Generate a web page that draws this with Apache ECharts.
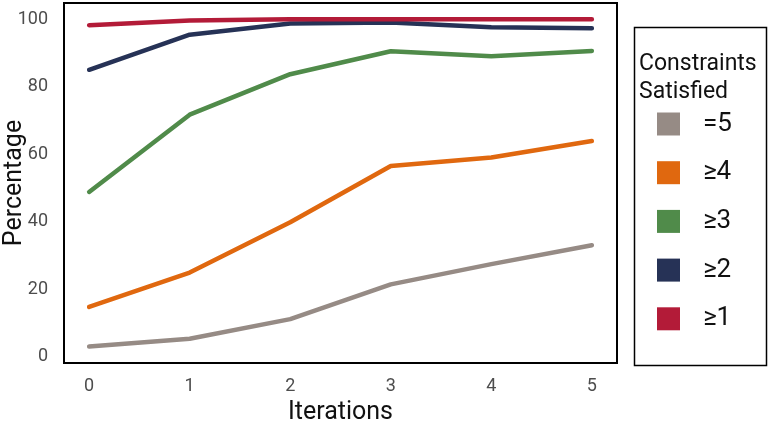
<!DOCTYPE html>
<html>
<head>
<meta charset="utf-8">
<script src="https://cdn.jsdelivr.net/npm/echarts@6/dist/echarts.min.js"></script>
<style>html,body{margin:0;padding:0;background:#fff}#chart{width:768px;height:424px}</style>
</head>
<body>
<div id="chart"></div>
<script>
const iterations = [0, 1, 2, 3, 4, 5];
const seriesNames = ['=5', '≥4', '≥3', '≥2', '≥1'];
const eq5 = [3.0, 5.3, 11.1, 21.4, 27.4, 33.0];
const ge4 = [14.7, 24.9, 39.8, 56.5, 59.0, 63.9];
const ge3 = [48.8, 71.7, 83.7, 90.5, 89.0, 90.6];
const ge2 = [85.0, 95.4, 98.7, 99.0, 97.6, 97.3];
const ge1 = [98.2, 99.6, 100, 100, 100, 100];
const yTicks = [0, 20, 40, 60, 80, 100];
const xTicks = [0, 1, 2, 3, 4, 5];
const colors = ['#968b85', '#e0680f', '#508b4a', '#263256', '#b31b38'];
const allValues = [eq5, ge4, ge3, ge2, ge1];

const chart = echarts.init(document.getElementById('chart'));
const font = 'Roboto, "Noto Sans", sans-serif';
chart.setOption({
  animation: false,
  color: colors,
  grid: {left: 64, right: 151, top: 3, bottom: 61, show: true, borderColor: '#000', borderWidth: 2,
         backgroundColor: '#fff', containLabel: false, outerBoundsMode: 'none'},
  xAxis: {
    type: 'value', min: -0.25, max: 5.25,
    name: 'Iterations', nameLocation: 'middle', nameGap: 37, nameMoveOverlap: false,
    nameTextStyle: {fontSize: 25, color: '#111', fontFamily: font},
    axisLine: {show: false}, axisTick: {show: false}, splitLine: {show: false},
    axisLabel: {customValues: xTicks, fontSize: 18, color: '#4d4d4d', margin: 14, fontFamily: font}
  },
  yAxis: {
    type: 'value', min: -1.9, max: 104.8,
    name: 'Percentage', nameLocation: 'middle', nameGap: 37, nameRotate: 90, nameMoveOverlap: false,
    nameTextStyle: {fontSize: 25, color: '#111', fontFamily: font},
    axisLine: {show: false}, axisTick: {show: false}, splitLine: {show: false},
    axisLabel: {customValues: yTicks, fontSize: 18, color: '#4d4d4d', margin: 16, fontFamily: font}
  },
  title: {
    text: 'Constraints\nSatisfied', left: 639, top: 50, padding: 0,
    textStyle: {fontSize: 23, fontWeight: 'normal', color: '#111', lineHeight: 28, fontFamily: font}
  },
  legend: {
    orient: 'vertical', left: 657, top: 111, padding: 0,
    itemWidth: 23, itemHeight: 23, itemGap: 22.7, icon: 'rect',
    data: seriesNames,
    textStyle: {fontSize: 26, color: '#111', padding: [0, 0, 0, 18], fontFamily: font}
  },
  graphic: [{
    type: 'rect', left: 632, top: 25,
    shape: {width: 132, height: 338},
    style: {fill: 'none', stroke: '#000', lineWidth: 1.5}, z: -1
  }],
  series: seriesNames.map((n, i) => ({
    name: n, type: 'line', showSymbol: false,
    data: iterations.map((x, j) => [x, allValues[i][j]]),
    lineStyle: {width: 4.5, cap: 'round', join: 'round'}
  }))
});
</script>
</body>
</html>
